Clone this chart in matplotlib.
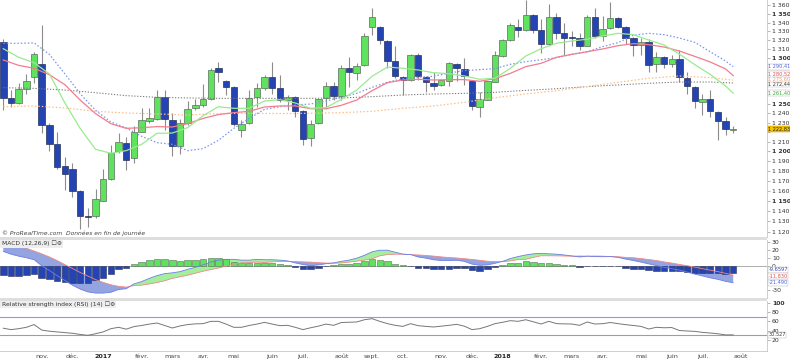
import matplotlib
matplotlib.use("Agg")
import matplotlib.pyplot as plt
import numpy as np
from matplotlib.ticker import NullLocator
from matplotlib.patches import Rectangle

# ---------------- data (weekly candles, Oct 2016 -> Jul 2018) ----------------
opens = [1318, 1256, 1251, 1266, 1279, 1293, 1227, 1208, 1185, 1182, 1160, 1135.5, 1135, 1150, 1172, 1200,
         1209, 1193, 1220, 1232, 1234, 1257, 1233, 1206, 1230, 1245, 1249, 1255, 1289, 1275, 1268, 1222,
         1229, 1257, 1267, 1279, 1267, 1254, 1257, 1242, 1214, 1229, 1256, 1269, 1258, 1289, 1283, 1292,
         1335, 1335, 1319, 1297, 1279, 1276, 1303, 1279, 1272, 1270, 1275, 1293, 1288, 1275, 1247, 1254,
         1274, 1302, 1320, 1335, 1332, 1349, 1332, 1316, 1347, 1328, 1323.5, 1322, 1313, 1346, 1325, 1334,
         1345, 1335, 1323, 1315, 1318, 1293, 1301, 1293, 1299, 1278, 1268, 1252, 1255, 1241, 1232, 1222.3]
highs = [1321, 1265, 1272, 1282, 1307, 1337, 1229, 1220, 1194, 1188, 1161, 1143, 1162, 1182, 1207, 1219,
         1215, 1226, 1245, 1245, 1265, 1265, 1240, 1234, 1253, 1255, 1271, 1289, 1296, 1276, 1269, 1233,
         1265, 1272, 1281, 1296, 1281, 1259, 1258, 1243, 1233, 1255, 1274, 1274, 1292, 1301, 1294, 1328,
         1357, 1336, 1320, 1313, 1280, 1304, 1306, 1280, 1284, 1276, 1296, 1294, 1300, 1276, 1263, 1275,
         1308, 1321, 1340, 1344, 1366, 1350, 1344, 1362, 1351, 1340, 1330, 1328, 1349, 1357, 1348, 1364,
         1346, 1336, 1324, 1322, 1321, 1307, 1302, 1303, 1309, 1284, 1269, 1261, 1265, 1242, 1236, 1226]
lows = [1243, 1246, 1250, 1261, 1272, 1219, 1200, 1182, 1161, 1154, 1123, 1125, 1133, 1150, 1171, 1198,
        1181, 1188, 1220, 1229, 1233, 1222, 1195, 1197, 1227, 1243, 1247, 1254, 1274, 1259, 1226, 1215,
        1228, 1247, 1265, 1261, 1252, 1243, 1236, 1207, 1205, 1228, 1244, 1254, 1254, 1268, 1276, 1291,
        1326, 1316, 1289, 1278, 1259, 1275, 1276, 1263, 1265, 1269, 1269, 1275, 1270, 1243, 1236, 1254,
        1273, 1301, 1319, 1324, 1330, 1328, 1306, 1315, 1321, 1303, 1313, 1309, 1313, 1322, 1319, 1333,
        1334, 1316, 1302, 1303, 1285, 1284, 1289, 1290, 1274, 1261, 1245, 1238, 1236, 1212, 1217, 1219]
closes = [1256, 1251, 1266, 1275, 1304, 1227, 1208, 1184, 1177, 1160, 1135, 1134.5, 1152, 1172, 1198, 1210,
          1191, 1220, 1233, 1235, 1257, 1234, 1205, 1229, 1244, 1249, 1255, 1287, 1284, 1268, 1228, 1228,
          1256, 1267, 1279, 1267, 1254, 1257, 1242, 1213, 1228, 1255, 1269, 1258, 1289, 1284, 1291, 1325,
          1346, 1320, 1297, 1280, 1276, 1303, 1280, 1274, 1269, 1276, 1294, 1289, 1280, 1248, 1255, 1275,
          1303, 1320, 1337, 1332, 1349, 1332, 1316, 1347, 1328, 1323, 1322.5, 1314, 1347, 1325, 1333, 1345,
          1335, 1323, 1315, 1318, 1292, 1301, 1293, 1299, 1279, 1269, 1253, 1255, 1242, 1232, 1223, 1222.83]

# moving averages (week index, value)
ma_fast_idx = list(range(0, 95, 2)) + [95]
ma_green = [1310.4, 1300.8, 1294.8, 1282.3, 1251.1, 1223.9, 1202.1, 1198.0, 1200.7, 1207.2, 1218.7, 1219.0,
            1224.6, 1237.3, 1246.8, 1245.1, 1245.1, 1252.9, 1254.4, 1250.8, 1245.1, 1245.8, 1254.7, 1264.8,
            1279.8, 1290.0, 1288.6, 1286.7, 1283.7, 1282.6, 1280.1, 1276.5, 1277.6, 1288.6, 1302.2, 1310.4,
            1316.5, 1319.1, 1321.1, 1324.8, 1327.8, 1326.3, 1320.2, 1314.6, 1304.4, 1292.6, 1281.9, 1269.2, 1261.40]
ma_red = [1297.8, 1291.8, 1288.6, 1281.5, 1270.7, 1254.0, 1239.5, 1228.8, 1223.9, 1224.6, 1225.7, 1225.3,
          1228.8, 1234.4, 1238.4, 1240.5, 1241.9, 1246.5, 1247.6, 1247.6, 1244.7, 1244.7, 1248.3, 1254.0,
          1264.1, 1272.8, 1275.7, 1276.5, 1275.7, 1276.1, 1276.1, 1274.3, 1277.2, 1283.0, 1290.4, 1294.1,
          1300.8, 1304.1, 1307.0, 1310.1, 1313.8, 1316.1, 1315.0, 1312.3, 1307.8, 1301.8, 1295.6, 1287.9, 1280.52]
ma_blue = [1316.5, 1316.5, 1316.9, 1304.1, 1282.6, 1260.8, 1243.0, 1230.6, 1224.3, 1215.6, 1209.0, 1207.2,
           1200.7, 1202.8, 1211.4, 1223.9, 1234.4, 1244.0, 1246.8, 1248.7, 1249.7, 1252.9, 1256.9, 1261.2,
           1267.7, 1273.2, 1277.2, 1278.7, 1279.8, 1283.3, 1286.0, 1287.1, 1288.2, 1293.0, 1295.9, 1298.1,
           1300.4, 1304.1, 1307.0, 1312.7, 1317.2, 1325.5, 1327.8, 1326.3, 1322.5, 1317.6, 1307.0, 1296.6, 1290.41]
ma_slow_idx = list(range(0, 93, 4)) + [95]
ma_orange = [1246.8, 1247.6, 1245.5, 1241.9, 1240.1, 1239.1, 1238.0, 1239.5, 1239.8, 1239.5, 1239.8, 1240.5,
             1241.9, 1245.1, 1247.6, 1251.5, 1256.5, 1260.5, 1264.1, 1268.5, 1273.2, 1277.6, 1280.1, 1278.3, 1275.60]
ma_grey = [1267.3, 1266.6, 1264.8, 1261.9, 1258.7, 1256.9, 1256.2, 1255.8, 1255.8, 1255.8, 1255.8, 1256.2,
           1257.6, 1259.4, 1260.5, 1261.2, 1262.3, 1264.4, 1266.2, 1268.5, 1270.3, 1272.1, 1273.5, 1273.5, 1272.44]

# MACD (12,26,9)
macd_hist = [-11.8, -13, -13, -12.2, -10.9, -15.1, -17.2, -19.3, -20.2, -21.4, -21.4, -21.4, -18.5, -15.1, -10.9, -4.6, -2.5,
             1.7, 4.6, 7.1, 8.8, 8.8, 6.7, 6.3, 7.1, 7.1, 8.0, 9.7, 10.1, 8.8, 4.6, 2.9, 2.9, 2.9,
             3.8, 2.9, 1.7, 0.8, -1.7, -3.8, -4.6, -2.9, -0.8, 0.4, 2.1, 2.5, 3.8, 5.9, 8.8, 7.1, 5.5, 2.5, 0.3, -0.3,
             -2.5, -3.4, -4.6, -4.6, -3.8, -2.9, -3.4, -5.9, -6.3, -4.6, -2.1, 0.4, 2.9, 3.8, 5.5,
             4.6, 2.9, 2.9, 2.1, 1.3, 0.3, -1.3, -0.3, -0.8, -0.8, -0.3, -0.8, -2.5, -4.2, -4.6, -5.5, -6.3, -6.7,
             -7.1, -7.1, -8.0, -8.8, -9.2, -9.7, -9.7, -10.1, -9.6597]
macd_line = [18, 14.5, 12, 10, 7.6, 0, -6, -12.5, -18.5, -24.5, -29.5, -33, -34.5, -34.5, -33.5, -30, -29,
             -23, -20, -16, -12.5, -10, -9, -7.5, -4.5, -2, 1, 4.5, 7, 8, 8, 7, 7, 8,
             7.5, 7.5, 7, 6, 3.5, 1.5, 0, 1, 2.5, 3.5, 5.5, 7, 9.5, 13, 17.5, 19.5, 19.5, 17, 14.5, 14,
             11, 9.5, 7.5, 6.5, 6.5, 6.8, 5.5, 2, 0.5, 1, 3, 5.5, 9, 11.5, 13.5,
             15, 15.5, 15, 14.5, 13.5, 12.3, 11, 12, 11.5, 11.3, 11.5, 10.5, 8.3, 6.5, 4.5, 2.3, 0.2, -2,
             -3.8, -5.5, -8, -10.6, -12.9, -15.3, -17.2, -19.7, -21.49]
macd_signal = [30, 27.5, 25, 22, 18.5, 15, 11, 6.5, 1.5, -3.5, -8.5, -13, -17.5, -21, -24, -26, -27,
               -25, -24.5, -23, -21.3, -19, -16, -14, -12, -9.5, -7, -5, -3, -0.5, 2, 3.5, 4, 4.5,
               4, 4.8, 5.3, 5.3, 5.2, 4.8, 4.5, 3.8, 3.3, 3.1, 3.4, 4.5, 5.7, 7, 8.7, 12.4, 14, 14.5, 14.5, 14,
               13.5, 12.9, 12.1, 11.1, 10.3, 9.7, 8.9, 7.9, 6.8, 5.6, 5.1, 5.1, 6, 7.7, 8,
               10.5, 12.5, 12.5, 12.4, 12.2, 12, 12.2, 12, 12.2, 12, 11.5, 11.3, 10.5, 10, 9, 7.8, 6.5, 4.8,
               3.3, 1.6, 0, -1.8, -3.7, -5.6, -7.5, -9.6, -11.83]

# RSI (14)
rsi = [45, 42, 44, 47, 53, 41, 38.5, 37, 35.5, 34, 31.5, 29.5, 33, 37, 44, 47, 43, 48.5, 51, 54,
       56.4, 51, 45.5, 50, 53, 54.5, 55, 60, 60, 54, 47, 47, 51, 54, 57.8, 54, 50.6, 51.3, 47, 42,
       46, 49.5, 54, 51.3, 57.5, 58, 58.6, 63.5, 65.8, 60, 55, 51.3, 49, 54.9, 50.6, 49, 47.7, 49.5, 51.3, 53.5,
       49.5, 42, 44, 49, 55, 58, 61.5, 60, 63.5, 59, 54.2, 60, 55, 54.5, 54.2, 51.3, 58.6, 54.2, 54.9, 57.5,
       55, 52.8, 51, 49, 43.3, 47, 46, 46.5, 40, 39, 38.2, 36, 34.6, 33, 30.5, 30.527]

month_idx = [5, 9, 13, 18, 22, 26, 30, 35, 39, 44, 48, 52, 57, 61, 65, 70, 74, 78, 83, 87, 91, 96]
month_lbl = ["nov.", "déc.", "2017", "févr.", "mars", "avr.", "mai", "juin", "juil.", "août", "sept.",
             "oct.", "nov.", "déc.", "2018", "févr.", "mars", "avr.", "mai", "juin", "juil.", "août"]
price_ticks = list(range(1120, 1361, 10))
price_hidden = [1290, 1280, 1270, 1260, 1220]   # covered by value tags in the reference
macd_ticks = [30, 20, 10, 0, -10, -20, -30]
macd_hidden = [-10, -20]
rsi_ticks = [100, 80, 60, 40, 20]

# ---------------- figure ----------------
W, H = 790, 359
fig = plt.figure(figsize=(W / 100, H / 100), dpi=100)
plt.rcParams["font.family"] = ["DejaVu Sans"]


def px_axes(x0, y0, x1, y1):
    return fig.add_axes([x0 / W, 1 - y1 / H, (x1 - x0) / W, (y1 - y0) / H])


ax = px_axes(0, 0, 767, 237)
axm = px_axes(0, 239.5, 767, 298)
axr = px_axes(0, 300.5, 767, 351)

XL = (-0.43, 99.4)
spine_c = "#c8c8c8"
for a in (ax, axm, axr):
    a.set_xlim(*XL)
    a.yaxis.tick_right()
    a.tick_params(axis="y", labelsize=4.4, length=2, width=0.5, color="#999999",
                  labelcolor="#333333", pad=1.5)
    a.tick_params(axis="x", length=0, labelsize=4.6, labelcolor="#444444", pad=2.5)
    for s in ("left", "top"):
        a.spines[s].set_visible(False)
    for s in ("right", "bottom"):
        a.spines[s].set_color(spine_c)
        a.spines[s].set_linewidth(0.6)

# separators
for y0, y1 in ((237, 239.5), (298, 300.5)):
    fig.patches.append(Rectangle((0, 1 - y1 / H), 767 / W, (y1 - y0) / H,
                                 transform=fig.transFigure, fc="#dedede", ec="none"))

# ---------------- main price panel ----------------
o = np.array(opens, float)
h = np.array(highs, float)
l = np.array(lows, float)
c = np.array(closes, float)
x = np.arange(len(c))
up = c >= o

ax.set_yscale("log")
ax.set_ylim(1115.0, 1366.3)

ax.vlines(x, l, h, color="#8c8c8c", lw=0.8, zorder=2)
bot = np.minimum(o, c)
hgt = np.maximum(np.abs(c - o), 0.45)
ax.bar(x[up], hgt[up], bottom=bot[up], width=0.84, color="#5fe35f", edgecolor="#5d6d5d", lw=0.5, zorder=3)
ax.bar(x[~up], hgt[~up], bottom=bot[~up], width=0.84, color="#2444b4", edgecolor="#28325a", lw=0.5, zorder=3)

ax.plot(ma_slow_idx, ma_grey, color="#777777", lw=0.75, ls=(0, (1.2, 1.6)), zorder=4)
ax.plot(ma_slow_idx, ma_orange, color="#fbbf8c", lw=0.9, ls=(0, (1.2, 1.6)), zorder=4)
ax.plot(ma_fast_idx, ma_blue, color="#7b93f0", lw=0.9, ls=(0, (1.2, 1.6)), zorder=4)
ax.plot(ma_fast_idx, ma_red, color="#f47c8c", lw=0.9, zorder=4)
ax.plot(ma_fast_idx, ma_green, color="#9aea90", lw=0.9, zorder=4)

ax.yaxis.set_minor_locator(NullLocator())
ax.set_yticks(price_ticks)
ax.set_yticklabels(["" if v in price_hidden else f"{v // 1000} {v % 1000:03d}" for v in price_ticks])
for v, t in zip(price_ticks, ax.get_yticklabels()):
    if v % 50 == 0:
        t.set_fontweight("bold")
ax.set_xticks([])

ax.text(0.002, 0.004, "© ProRealTime.com  Données en fin de journée", transform=ax.transAxes,
        fontsize=4.3, color="#444444", style="italic", va="bottom", ha="left")


def fmt_price(v):
    s = f"{v:,.2f}".replace(",", " ").replace(".", ",")
    return s


def tag(a, yv, txt, col, fc="white", ec="#bbbbbb", dy=0.0):
    a.annotate(txt, xy=(1, yv), xycoords=("axes fraction", "data"), xytext=(1.0, dy),
               textcoords="offset points", ha="left", va="center", fontsize=3.6, color=col,
               bbox=dict(boxstyle="square,pad=0.08", fc=fc, ec=ec, lw=0.35),
               annotation_clip=False, zorder=10)


tag(ax, ma_green[-1], fmt_price(ma_green[-1]), "#3aa83a")
tag(ax, ma_grey[-1], fmt_price(ma_grey[-1]), "#333333", dy=-1.0)
tag(ax, ma_orange[-1], fmt_price(ma_orange[-1]), "#f0a060", dy=0.9)
tag(ax, ma_red[-1], fmt_price(ma_red[-1]), "#e04a5a", dy=0.9)
tag(ax, ma_blue[-1], fmt_price(ma_blue[-1]), "#4a64e0")
tag(ax, closes[-1], fmt_price(closes[-1]), "#222222", fc="#f2c200", ec="#d0a000")

# ---------------- MACD panel ----------------
mh = np.array(macd_hist)
ml = np.array(macd_line)
ms = np.array(macd_signal)
axm.set_ylim(-40.7, 33.0)
axm.axhline(0, color="#a0a0a0", lw=0.6, zorder=1)
pos = mh >= 0
axm.bar(x[pos], mh[pos], width=0.84, color="#5fe35f", edgecolor="#5d6d5d", lw=0.4, zorder=3)
axm.bar(x[~pos], mh[~pos], width=0.84, color="#2444b4", edgecolor="#28325a", lw=0.4, zorder=3)
axm.fill_between(x, ml, ms, where=ml <= ms, interpolate=True, color="#6f86d6", alpha=0.75, lw=0, zorder=2)
axm.fill_between(x, ml, ms, where=ml >= ms, interpolate=True, color="#8eea86", alpha=0.8, lw=0, zorder=2)
axm.plot(x, ms, color="#f08888", lw=0.6, zorder=4)
axm.plot(x, ml, color="#6c7ee8", lw=0.6, zorder=4)
axm.set_yticks(macd_ticks)
axm.set_yticklabels(["" if v in macd_hidden else str(v) for v in macd_ticks])
axm.set_xticks([])
axm.text(0.002, 0.93, "MACD (12,26,9) \u2610\u2699", transform=axm.transAxes, fontsize=4.3, color="#333333",
         va="center", ha="left", bbox=dict(boxstyle="square,pad=0.2", fc="#eeeeee", ec="none"), zorder=6)
tag(axm, -5.2, f"{macd_hist[-1]:.4f}", "#2a46b0")
tag(axm, -13.4, f"{macd_signal[-1]:.3f}", "#e05050")
tag(axm, -21.8, f"{macd_line[-1]:.3f}", "#5064e0")

# ---------------- RSI panel ----------------
axr.set_ylim(-4.6, 105.4)
axr.axhline(70, color="#9494ee", lw=0.8, zorder=1)
axr.axhline(30, color="#9494ee", lw=0.8, zorder=1)
axr.plot(x, rsi, color="#777777", lw=0.7, zorder=3)
axr.set_yticks(rsi_ticks)
axr.set_yticklabels([str(v) for v in rsi_ticks])
axr.get_yticklabels()[0].set_fontweight("bold")
axr.set_xticks(month_idx)
axr.set_xticklabels(month_lbl)
for lab in axr.get_xticklabels():
    if lab.get_text().isdigit():
        lab.set_fontweight("bold")
        lab.set_color("#222222")
axr.text(0.002, 0.93, "Relative strength index (RSI) (14) \u2610\u2699", transform=axr.transAxes,
         fontsize=4.3, color="#333333", va="center", ha="left",
         bbox=dict(boxstyle="square,pad=0.2", fc="#eeeeee", ec="none"), zorder=6)
tag(axr, rsi[-1], f"{rsi[-1]:.3f}", "#333333")

fig.savefig("out.png", dpi=100)
